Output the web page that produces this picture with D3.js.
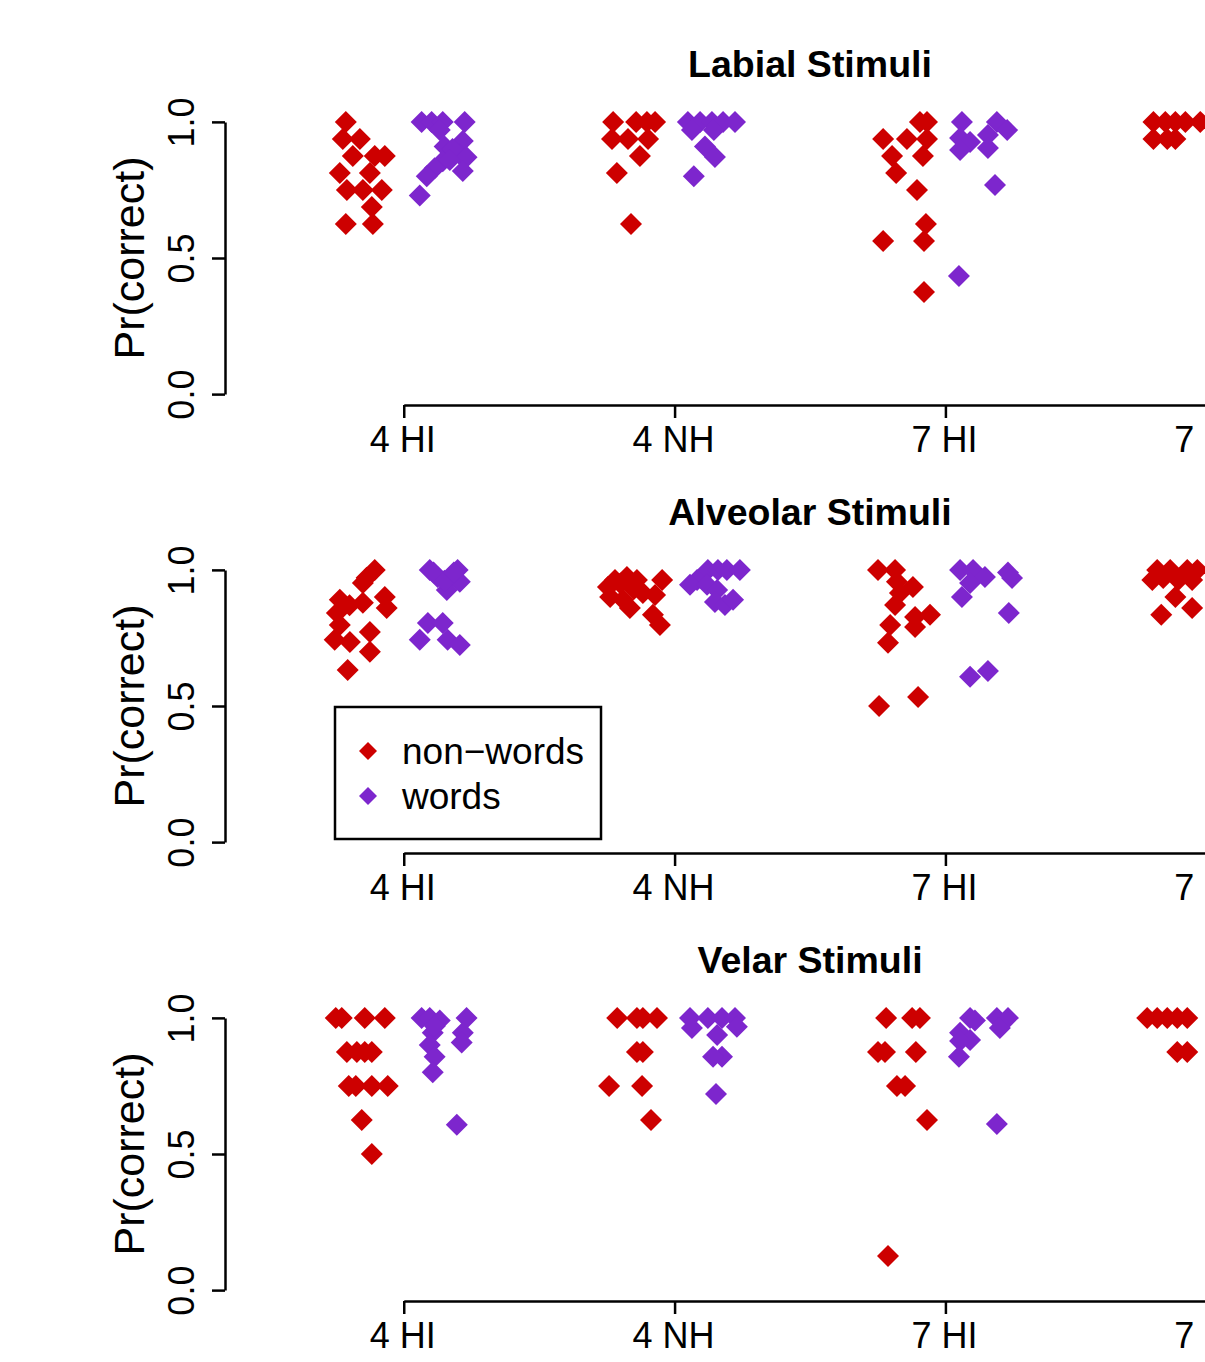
<!DOCTYPE html>
<html><head><meta charset="utf-8">
<script src="https://cdn.jsdelivr.net/npm/d3@7"></script>
<style>body{margin:0;background:#fff}</style>
</head><body><svg id="c" width="1205" height="1362"></svg>
<script>
// ---------- data ----------
const groups = ["4 HI", "4 NH", "7 HI", "7 NH"];
const yTicks = [0, 0.5, 1];
const yTickLabels = ["0.0", "0.5", "1.0"];
const panelTitles = ["Labial Stimuli", "Alveolar Stimuli", "Velar Stimuli"];
const seriesNames = ["non\u2212words", "words"];
const seriesColors = ["#CD0000", "#7D26CD"];

// each point: [group index, horizontal jitter (group units), Pr(correct)]
const labialNonWords = [
  [1,-0.214,1],[1,-0.225,0.9375],[1,-0.162,0.9375],[1,-0.188,0.875],[1,-0.107,0.875],[1,-0.070,0.875],
  [1,-0.236,0.8125],[1,-0.125,0.8125],[1,-0.210,0.75],[1,-0.151,0.75],[1,-0.081,0.75],[1,-0.118,0.6875],
  [1,-0.214,0.625],[1,-0.114,0.625],
  [2,-0.227,1],[2,-0.142,1],[2,-0.102,1],[2,-0.072,1],[2,-0.231,0.9375],[2,-0.172,0.9375],[2,-0.098,0.9375],
  [2,-0.128,0.875],[2,-0.213,0.8125],[2,-0.161,0.625],
  [3,-0.094,1],[3,-0.068,1],[3,-0.230,0.9375],[3,-0.142,0.9375],[3,-0.068,0.9375],[3,-0.197,0.875],
  [3,-0.083,0.875],[3,-0.182,0.8125],[3,-0.105,0.75],[3,-0.072,0.625],[3,-0.230,0.5625],[3,-0.079,0.5625],
  [3,-0.079,0.375],
  [4,-0.232,1],[4,-0.188,1],[4,-0.151,1],[4,-0.114,1],[4,-0.059,1],[4,-0.232,0.9375],[4,-0.181,0.9375],[4,-0.151,0.9375]
];
const labialWords = [
  [1,0.066,1],[1,0.103,1],[1,0.144,1],[1,0.225,1],[1,0.133,0.97],[1,0.151,0.91],[1,0.218,0.93],
  [1,0.207,0.88],[1,0.232,0.87],[1,0.144,0.855],[1,0.114,0.83],[1,0.085,0.80],[1,0.218,0.82],[1,0.059,0.73],
  [1,0.180,0.90],[1,0.170,0.86],
  [2,0.049,1],[2,0.094,1],[2,0.138,1],[2,0.179,1],[2,0.223,1],[2,0.064,0.97],[2,0.145,0.97],
  [2,0.112,0.91],[2,0.149,0.871],[2,0.071,0.80],
  [3,0.061,1],[3,0.054,0.941],[3,0.091,0.926],[3,0.054,0.897],[3,0.190,1],[3,0.228,0.97],[3,0.157,0.952],
  [3,0.157,0.904],[3,0.183,0.768],[3,0.050,0.434]
];
const alveolarNonWords = [
  [1,-0.107,1],[1,-0.137,0.971],[1,-0.151,0.952],[1,-0.236,0.89],[1,-0.070,0.90],[1,-0.151,0.879],[1,-0.063,0.86],
  [1,-0.247,0.842],[1,-0.236,0.798],[1,-0.125,0.772],[1,-0.255,0.743],[1,-0.199,0.735],[1,-0.125,0.699],[1,-0.207,0.632],
  [1,-0.200,0.87],
  [2,-0.246,0.9375],[2,-0.220,0.963],[2,-0.176,0.974],[2,-0.139,0.963],[2,-0.238,0.90],[2,-0.190,0.89],
  [2,-0.165,0.86],[2,-0.117,0.915],[2,-0.046,0.963],[2,-0.072,0.908],[2,-0.080,0.835],[2,-0.054,0.798],
  [2,-0.200,0.95],[2,-0.150,0.93],
  [3,-0.249,1],[3,-0.186,1],[3,-0.179,0.956],[3,-0.120,0.9375],[3,-0.168,0.915],[3,-0.186,0.871],[3,-0.204,0.798],
  [3,-0.112,0.827],[3,-0.057,0.835],[3,-0.112,0.79],[3,-0.212,0.732],[3,-0.245,0.5],[3,-0.101,0.533],
  [4,-0.218,1],[4,-0.170,1],[4,-0.107,1],[4,-0.070,1],[4,-0.236,0.963],[4,-0.196,0.97],[4,-0.140,0.963],
  [4,-0.089,0.963],[4,-0.151,0.90],[4,-0.089,0.86],[4,-0.203,0.835]
];
const alveolarWords = [
  [1,0.096,1],[1,0.199,1],[1,0.125,0.974],[1,0.177,0.974],[1,0.207,0.956],[1,0.159,0.926],
  [1,0.110,0.99],[1,0.150,0.96],[1,0.185,0.99],
  [1,0.089,0.805],[1,0.144,0.805],[1,0.059,0.743],[1,0.162,0.743],[1,0.207,0.724],
  [2,0.123,1],[2,0.160,1],[2,0.193,1],[2,0.241,1],[2,0.083,0.963],[2,0.057,0.945],[2,0.120,0.945],
  [2,0.157,0.926],[2,0.149,0.882],[2,0.186,0.871],[2,0.216,0.89],
  [3,0.054,1],[3,0.102,1],[3,0.146,0.974],[3,0.231,0.99],[3,0.246,0.97],[3,0.091,0.952],[3,0.061,0.90],
  [3,0.234,0.842],[3,0.091,0.607],[3,0.157,0.629]
];
const velarNonWords = [
  [1,-0.251,1],[1,-0.229,1],[1,-0.144,1],[1,-0.070,1],[1,-0.210,0.875],[1,-0.173,0.875],[1,-0.144,0.875],
  [1,-0.118,0.875],[1,-0.203,0.75],[1,-0.177,0.75],[1,-0.118,0.75],[1,-0.059,0.75],[1,-0.155,0.625],[1,-0.118,0.5],
  [2,-0.212,1],[2,-0.139,1],[2,-0.117,1],[2,-0.065,1],[2,-0.139,0.875],[2,-0.117,0.875],[2,-0.242,0.75],
  [2,-0.120,0.75],[2,-0.087,0.625],
  [3,-0.219,1],[3,-0.123,1],[3,-0.094,1],[3,-0.249,0.875],[3,-0.223,0.875],[3,-0.109,0.875],[3,-0.179,0.75],
  [3,-0.149,0.75],[3,-0.068,0.625],[3,-0.212,0.125],
  [4,-0.255,1],[4,-0.218,1],[4,-0.181,1],[4,-0.144,1],[4,-0.107,1],[4,-0.144,0.875],[4,-0.107,0.875]
];
const velarWords = [
  [1,0.066,1],[1,0.096,1],[1,0.133,0.99],[1,0.232,1],[1,0.107,0.945],[1,0.218,0.945],[1,0.214,0.91],
  [1,0.096,0.90],[1,0.114,0.857],[1,0.107,0.80],[1,0.196,0.607],[1,0.115,0.97],
  [2,0.057,1],[2,0.123,1],[2,0.175,1],[2,0.223,1],[2,0.064,0.963],[2,0.230,0.967],[2,0.157,0.937],
  [2,0.175,0.857],[2,0.142,0.857],[2,0.153,0.72],
  [3,0.091,1],[3,0.109,0.99],[3,0.190,1],[3,0.231,1],[3,0.201,0.963],[3,0.054,0.945],[3,0.091,0.919],
  [3,0.054,0.915],[3,0.050,0.857],[3,0.190,0.61]
];
const panelSeries = [
  [labialNonWords, labialWords],
  [alveolarNonWords, alveolarWords],
  [velarNonWords, velarWords]
];

// ---------- layout ----------
const svg = d3.select("#c");
const font = "'Liberation Sans', Arial, Helvetica, sans-serif";
const plotLeft = 225, plotRight = 1395;
const panelStep = 448, plotTop0 = 111, plotBottom0 = 405;
const x = d3.scaleLinear().domain([0.34, 4.66]).range([plotLeft, plotRight]);
const diamond = "M0,-11L11,0L0,11L-11,0Z";

panelSeries.forEach((series, pi) => {
  const off = pi * panelStep;
  const y = d3.scaleLinear().domain([-0.04, 1.04]).range([plotBottom0 + off, plotTop0 + off]);
  const g = svg.append("g");

  // title
  g.append("text").attr("x", (plotLeft + plotRight) / 2).attr("y", 77 + off)
    .attr("text-anchor", "middle").attr("font-family", font).attr("font-weight", "bold")
    .attr("font-size", 37.5).text(panelTitles[pi]);

  // y axis
  const ya = g.append("g").attr("transform", `translate(${plotLeft},0)`)
    .call(d3.axisLeft(y.copy().domain([0, 1]).range([y(0), y(1)])).tickValues(yTicks)
      .tickSize(13).tickSizeOuter(0).tickFormat((d, i) => yTickLabels[i]));
  ya.selectAll("path,line").attr("stroke", "#000").attr("stroke-width", 2.5);
  ya.selectAll("text").attr("font-family", font).attr("font-size", 36).attr("fill", "#000")
    .attr("x", null).attr("dy", null).attr("text-anchor", "middle")
    .attr("transform", "translate(-31,0) rotate(-90)");

  // x axis
  const xa = g.append("g").attr("transform", `translate(0,${plotBottom0 + off})`)
    .call(d3.axisBottom(x.copy().domain([1, 4]).range([x(1), x(4)])).tickValues([1, 2, 3, 4])
      .tickSize(13).tickSizeOuter(0).tickFormat(d => groups[d - 1]));
  xa.selectAll("path,line").attr("stroke", "#000").attr("stroke-width", 2.5);
  xa.selectAll("text").attr("font-family", font).attr("font-size", 36).attr("fill", "#000")
    .attr("y", 47).attr("dy", null).attr("dx", -1.5);

  // y label
  g.append("text").attr("transform", `translate(144,${(y(0) + y(1)) / 2}) rotate(-90)`)
    .attr("text-anchor", "middle").attr("font-family", font).attr("font-size", 43).text("Pr(correct)");

  // points
  series.forEach((pts, si) => {
    g.append("g").selectAll("path").data(pts).join("path")
      .attr("d", diamond)
      .attr("transform", d => `translate(${x(d[0] + d[1])},${y(d[2])})`)
      .attr("fill", seriesColors[si]);
  });
});

// legend (in alveolar panel)
const lg = svg.append("g");
lg.append("rect").attr("x", 335).attr("y", 707).attr("width", 266).attr("height", 132)
  .attr("fill", "none").attr("stroke", "#000").attr("stroke-width", 2.5);
seriesNames.forEach((n, i) => {
  lg.append("path").attr("d", "M0,-9L9,0L0,9L-9,0Z").attr("fill", seriesColors[i])
    .attr("transform", `translate(368,${751 + i * 45})`);
  lg.append("text").attr("x", 402).attr("y", 764 + i * 45).attr("font-family", font)
    .attr("font-size", 37).text(n);
});
</script></body></html>
